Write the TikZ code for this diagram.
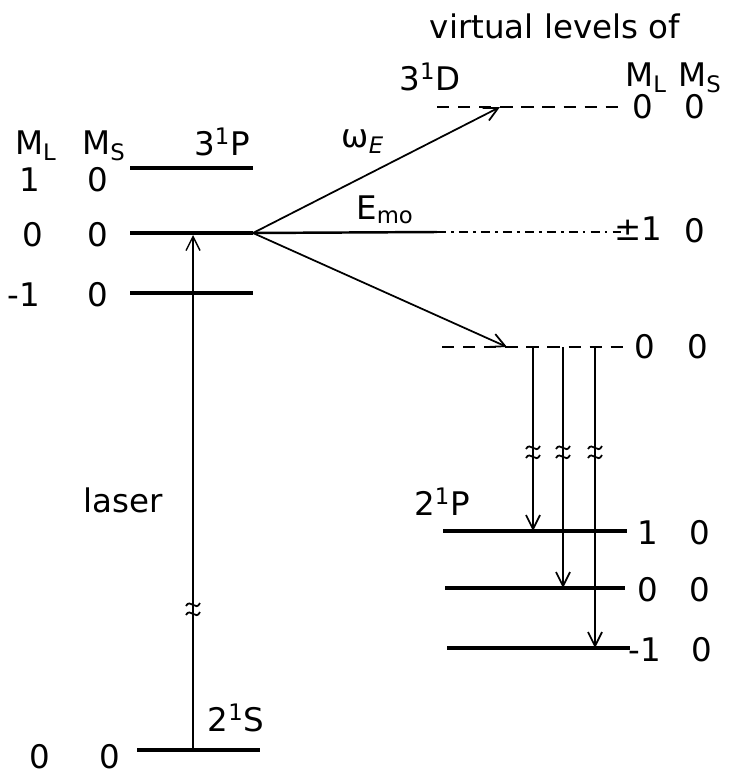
\documentclass[tikz,border=0pt]{standalone}
\usepackage{fontspec}
\setmainfont{DejaVu Sans}
\usepackage{tikz}
\usetikzlibrary{arrows.meta}
\tikzset{
  lvl/.style={line width=2pt},
  virt/.style={line width=1.6pt, dash pattern=on 7pt off 5pt},
  virtdot/.style={line width=1.3pt, dash pattern=on 5pt off 3pt on 1.5pt off 3pt},
  trans/.style={-{Straight Barb[length=2.8mm, width=2.8mm]}, line width=1pt},
  lbl/.style={font=\fontsize{18.5}{21}\selectfont, inner sep=0pt},
  brk/.pic={
    \draw[line width=1pt] (-7,-1) .. controls (-3,-9) and (3,5) .. (7,-4);
    \draw[line width=1pt] (-7,8) .. controls (-3,0) and (3,14) .. (7,5);
  },
}

\begin{document}
\begin{tikzpicture}[x=0.02cm, y=-0.02cm]
  \useasboundingbox (0,0) rectangle (729,781);
  % 3^1P sublevels
  \coordinate (p1a) at (130,168); \coordinate (p1b) at (253,168);
  \coordinate (p0a) at (130,233); \coordinate (apex) at (253,233);
  \coordinate (pma) at (130,293); \coordinate (pmb) at (253,293);
  \draw[lvl] (p1a) -- (p1b);
  \draw[lvl] (p0a) -- (apex);
  \draw[lvl] (pma) -- (pmb);
  \node[lbl] (hML) at (36,146) {M\textsubscript{L}};
  \node[lbl] (hMS) at (104,146) {M\textsubscript{S}};
  \node[lbl] (tP) at (222,142) {3\textsuperscript{1}P};
  \node[lbl] (p1L) at (30,180) {1};
  \node[lbl] (p1S) at (98,180) {0};
  \node[lbl] (p0L) at (33,235) {0};
  \node[lbl] (p0S) at (98,235) {0};
  \node[lbl] (pmL) at (24,295) {-1};
  \node[lbl] (pmS) at (98,295) {0};

  % ground level 2^1S and laser
  \coordinate (sa) at (137,750); \coordinate (sb) at (260,750);
  \draw[lvl] (sa) -- (sb);
  \node[lbl] (tS) at (236,718) {2\textsuperscript{1}S};
  \node[lbl] (sL) at (40,757) {0};
  \node[lbl] (sS) at (110,757) {0};
  \coordinate (las0) at (193,750); \coordinate (las1) at (193,235);
  \draw[trans, line width=0.8pt] (las0) -- (las1);
  \pic at (193,607) {brk};
  \node[lbl] (tlaser) at (123,500) {laser};

  % virtual levels of 3^1D
  \node[lbl] (tvirt) at (555,26) {virtual levels of};
  \node[lbl] (tD) at (430,77) {3\textsuperscript{1}D};
  \node[lbl] (hML2) at (646,78) {M\textsubscript{L}};
  \node[lbl] (hMS2) at (700,78) {M\textsubscript{S}};
  \coordinate (d0a) at (437,107); \coordinate (d0b) at (625,107);
  \coordinate (d0t) at (500,107);
  \draw[virt] (d0a) -- (d0b);
  \node[lbl] (d0L) at (643,107) {0};
  \node[lbl] (d0S) at (695,107) {0};
  \coordinate (e0a) at (437,232); \coordinate (e0b) at (625,232);
  \draw[lvl, line width=1.4pt] (apex) -- (e0a);
  \draw[virtdot] (e0a) -- (e0b);
  \node[lbl] (e0L) at (638,229) {±1};
  \node[lbl] (e0S) at (695,231) {0};
  \coordinate (f0a) at (442,347); \coordinate (f0b) at (625,347);
  \coordinate (f0t) at (507,347);
  \draw[virt] (f0a) -- (f0b);
  \node[lbl] (f0L) at (645,347) {0};
  \node[lbl] (f0S) at (698,347) {0};

  % mixing by the field
  \draw[trans] (apex) -- (d0t);
  \draw[trans] (apex) -- (f0t);
  \node[lbl] (tw) at (363,142) {ω\textsubscript{\textit{E}}};
  \node[lbl] (tE) at (385,210) {E\textsubscript{mo}};

  % 2^1P sublevels
  \node[lbl] (tP2) at (442,502) {2\textsuperscript{1}P};
  \coordinate (q1a) at (443,531); \coordinate (q1b) at (627,531);
  \coordinate (q0a) at (445,588); \coordinate (q0b) at (625,588);
  \coordinate (qma) at (447,648); \coordinate (qmb) at (630,648);
  \draw[lvl] (q1a) -- (q1b);
  \draw[lvl] (q0a) -- (q0b);
  \draw[lvl] (qma) -- (qmb);
  \node[lbl] (q1L) at (648,533) {1};
  \node[lbl] (q1S) at (700,533) {0};
  \node[lbl] (q0L) at (648,590) {0};
  \node[lbl] (q0S) at (700,590) {0};
  \node[lbl] (qmL) at (645,650) {-1};
  \node[lbl] (qmS) at (702,650) {0};

  % decays
  \coordinate (r1) at (533,347); \coordinate (r2) at (563,347);
  \coordinate (r3) at (595,347);
  \draw[trans] (r1) -- (r1 |- q1a);
  \draw[trans] (r2) -- (r2 |- q0a);
  \draw[trans] (r3) -- (r3 |- qma);
  \pic at (533,450) {brk};
  \pic at (563,450) {brk};
  \pic at (595,450) {brk};
\end{tikzpicture}
\end{document}
